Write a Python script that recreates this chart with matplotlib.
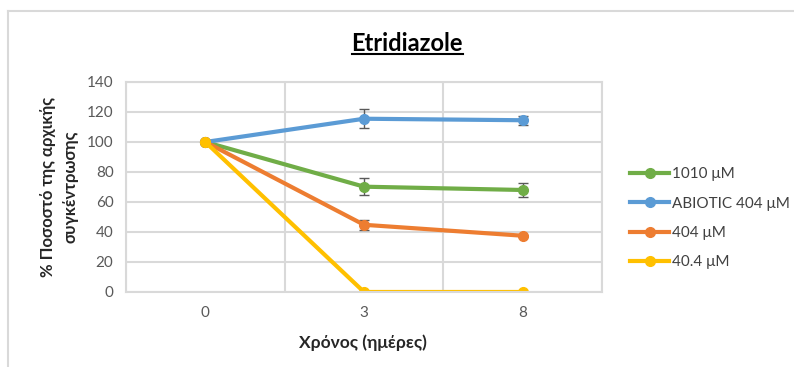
import matplotlib.pyplot as plt
from matplotlib.lines import Line2D

plt.rcParams['font.family'] = ['Lato', 'DejaVu Sans']

days = ["0", "3", "8"]
series_names = ["1010 μM", "ABIOTIC 404 μM", "404 μM", "40.4 μM"]
values = [
    [100, 70.2, 68.0],
    [100, 115.5, 114.5],
    [100, 44.8, 37.5],
    [100, 0, 0],
]
errors = [
    [0, 5.5, 4.9],
    [0, 6.4, 3.0],
    [0, 3.4, 0.6],
    [0, 0, 0],
]
colors = ["#70AD47", "#5B9BD5", "#ED7D31", "#FFC000"]

fig = plt.figure(figsize=(7.94, 3.67), dpi=100)
ax = fig.add_axes([0.1587, 0.2044, 0.5995, 0.5722])

x = list(range(len(days)))
for name, v, e, c in zip(series_names, values, errors, colors):
    ax.errorbar(x, v, yerr=e, color=c, lw=3, marker="o", ms=7, label=name,
                ecolor="#595959", elinewidth=1, capsize=3.5, capthick=1)

ax.set_xlim(-0.5, 2.5)
ax.set_ylim(0, 140)
ax.set_yticks(range(0, 141, 20))
ax.set_xticks(x)
ax.set_xticklabels(days)
ax.set_xticks([-0.5, 0.5, 1.5, 2.5], minor=True)
ax.tick_params(which="both", length=0, labelsize=11, labelcolor="#595959")
ax.tick_params(axis="x", pad=10)
ax.tick_params(axis="y", pad=9)
ax.grid(True, axis="y", which="major", color="#D9D9D9", lw=1.5)
ax.grid(True, axis="x", which="minor", color="#D9D9D9", lw=1.5)
ax.set_axisbelow(True)
for s in ax.spines.values():
    s.set_color("#D9D9D9")
    s.set_linewidth(1.5)

ax.set_xlabel("Χρόνος (ημέρες)", fontsize=12.5, fontweight="bold", color="#262626")
ax.xaxis.set_label_coords(0.498, -0.243)
ax.xaxis.label.set_verticalalignment("center")
ax.set_ylabel("% Ποσοστό της αρχικής\nσυγκέντρωσης", fontsize=12,
              fontweight="bold", color="#262626", linespacing=1.5)
ax.yaxis.set_label_coords(-0.141, 0.502)
ax.yaxis.label.set_verticalalignment("center")

title = fig.text(0.513, 0.881, "Etridiazole", ha="center", va="center",
                 fontsize=17, fontweight="bold")
fig.canvas.draw()
bb = title.get_window_extent().transformed(fig.transFigure.inverted())
fig.add_artist(Line2D([bb.x0, bb.x1], [bb.y0 + 0.004, bb.y0 + 0.004],
                      transform=fig.transFigure, color="black", lw=1.5))

# chart frame (left and top edges)
fig.add_artist(Line2D([0.0105, 0.0105], [0.0, 0.969], transform=fig.transFigure,
                      color="#D9D9D9", lw=1.5))
fig.add_artist(Line2D([0.0105, 1.0], [0.969, 0.969], transform=fig.transFigure,
                      color="#D9D9D9", lw=1.5))

handles = [Line2D([0], [0], color=c, lw=3, marker="o", ms=7) for c in colors]
fig.legend(handles, series_names, loc="center left", bbox_to_anchor=(0.793, 0.405),
           frameon=False, fontsize=11, handlelength=2.6, handletextpad=0.15,
           labelspacing=1.0, borderpad=0, borderaxespad=0, labelcolor="#404040")

fig.savefig("out.png", dpi=100)
